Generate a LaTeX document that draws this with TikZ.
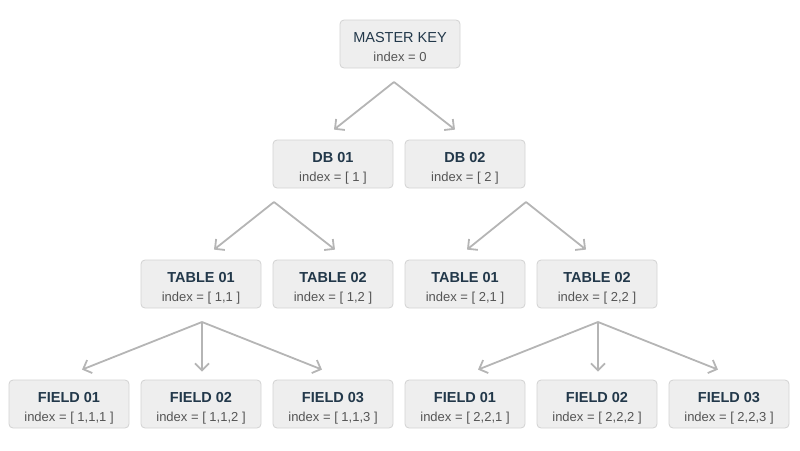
\documentclass[tikz,border=0pt]{standalone}
\usepackage{fontspec}
\setmainfont{Liberation Sans}
\usetikzlibrary{arrows.meta,calc}
\definecolor{boxfill}{HTML}{EEEEEE}
\definecolor{boxline}{HTML}{D2D2D2}
\definecolor{arrowgray}{HTML}{B5B5B5}
\definecolor{titlenavy}{HTML}{22384A}
\definecolor{indexgray}{HTML}{555555}
\tikzset{
    keybox/.style={draw=boxline, fill=boxfill, rounded corners=4pt, line width=0.8pt,
        minimum width=120pt, minimum height=48pt, inner sep=0pt, align=center,
        text height=36.7pt, text depth=2.7pt, text=indexgray, font=\fontsize{13}{19}\selectfont},
    link/.style={draw=arrowgray, line width=1.8pt, -{Straight Barb[length=7pt,width=14pt,line width=1.8pt]}}
}
\newcommand{\keytitle}[1]{{\fontsize{14.5}{19}\selectfont\bfseries\color{titlenavy}#1}}
\begin{document}
\begin{tikzpicture}[x=1pt, y=-1pt]
\useasboundingbox (0,0) rectangle (800,450);
%master key
\node[keybox] (mk) at (400,44) {{\fontsize{14.5}{19}\selectfont\color{titlenavy}MASTER KEY}\\index = 0};
%databases
\node[keybox] (db1) at (333,164) {\keytitle{DB 01}\\index = [ 1 ]};
\node[keybox] (db2) at (465,164) {\keytitle{DB 02}\\index = [ 2 ]};
%tables
\node[keybox] (t11) at (201,284) {\keytitle{TABLE 01}\\index = [ 1,1 ]};
\node[keybox] (t12) at (333,284) {\keytitle{TABLE 02}\\index = [ 1,2 ]};
\node[keybox] (t21) at (465,284) {\keytitle{TABLE 01}\\index = [ 2,1 ]};
\node[keybox] (t22) at (597,284) {\keytitle{TABLE 02}\\index = [ 2,2 ]};
%fields
\node[keybox] (f111) at (69,404) {\keytitle{FIELD 01}\\index = [ 1,1,1 ]};
\node[keybox] (f112) at (201,404) {\keytitle{FIELD 02}\\index = [ 1,1,2 ]};
\node[keybox] (f113) at (333,404) {\keytitle{FIELD 03}\\index = [ 1,1,3 ]};
\node[keybox] (f221) at (465,404) {\keytitle{FIELD 01}\\index = [ 2,2,1 ]};
\node[keybox] (f222) at (597,404) {\keytitle{FIELD 02}\\index = [ 2,2,2 ]};
\node[keybox] (f223) at (729,404) {\keytitle{FIELD 03}\\index = [ 2,2,3 ]};
%split points below the parents
\coordinate (mk-a) at (394,82);
\coordinate (db1-a) at (274,202);
\coordinate (db2-a) at (526,202);
\coordinate (t11-a) at (202,322);
\coordinate (t22-a) at (598,322);
%arrows..................
\draw[link] (mk-a) -- ($(db1.north)+(1,-10)$);
\draw[link] (mk-a) -- ($(db2.north)+(-10,-10)$);
\draw[link] (db1-a) -- ($(t11.north)+(13,-10)$);
\draw[link] (db1-a) -- ($(t12.north)+(2,-10)$);
\draw[link] (db2-a) -- ($(t21.north)+(2,-10)$);
\draw[link] (db2-a) -- ($(t22.north)+(-11,-10)$);
\draw[link] (t11-a) -- ($(f111.north)+(13,-10)$);
\draw[link] (t11-a) -- ($(f112.north)+(1,-8)$);
\draw[link] (t11-a) -- ($(f113.north)+(-11,-10)$);
\draw[link] (t22-a) -- ($(f221.north)+(13,-10)$);
\draw[link] (t22-a) -- ($(f222.north)+(1,-8)$);
\draw[link] (t22-a) -- ($(f223.north)+(-11,-10)$);
\end{tikzpicture}
\end{document}
